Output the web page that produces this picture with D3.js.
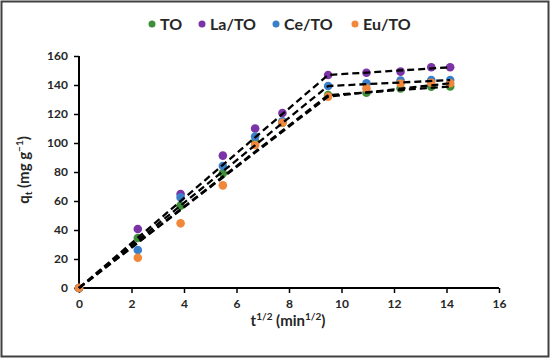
<!DOCTYPE html>
<html>
<head>
<meta charset="utf-8">
<script src="https://cdn.jsdelivr.net/npm/d3@7"></script>
<style>
	body { margin: 0; background: #fff; }
	svg text { font-family: Lato, "Open Sans", sans-serif; font-weight: bold; fill: #262626; }
</style>
</head>
<body>
<script>
// sqrt(t) values, min^1/2
var tHalf = [0, 2.24, 3.87, 5.48, 6.71, 7.75, 9.49, 10.95, 12.25, 13.42, 14.14];

var seriesNames = ["TO", "La/TO", "Ce/TO", "Eu/TO"];
var seriesColors = ["#3f8f3a", "#7b34a6", "#3a7fc9", "#f0873a"];

var qTO   = [0, 34.5, 56.8, 79.1, 101, 114, 133, 134.7, 137.7, 138.9, 139];
var qLaTO = [0, 40.7, 64.8, 91.3, 110, 120.7, 146.9, 148.5, 149.2, 152.2, 152.2];
var qCeTO = [0, 26.2, 62.5, 84.1, 104.4, 115, 139.3, 141.1, 143, 143.4, 143.4];
var qEuTO = [0, 20.9, 44.6, 70.8, 98.6, 114, 132, 137.7, 141, 141.6, 141.2];

// piecewise fit lines (two stages)
var fitX = [0, 9.49, 14.14];
var fitTO   = [0, 133, 139];
var fitLaTO = [0, 146.9, 152.2];
var fitCeTO = [0, 139.3, 143.4];
var fitEuTO = [0, 132, 141.2];

var xTicks = [0, 2, 4, 6, 8, 10, 12, 14, 16];
var yTicks = [0, 20, 40, 60, 80, 100, 120, 140, 160];

var width = 550, height = 360;
var margin = {left: 79, right: 51, top: 56, bottom: 72};

var svg = d3.select("body").append("svg")
	.attr("width", width)
	.attr("height", height);

svg.append("rect")
	.attr("x", 1.5).attr("y", 1.5)
	.attr("width", width - 3).attr("height", height - 5)
	.attr("fill", "#fff")
	.attr("stroke", "#404040")
	.attr("stroke-width", 2);

var x = d3.scaleLinear().domain([0, 16]).range([margin.left, width - margin.right]);
var y = d3.scaleLinear().domain([0, 160]).range([height - margin.bottom, margin.top]);

// axes
var xAxis = svg.append("g")
	.attr("transform", "translate(0," + y(0) + ")")
	.call(d3.axisBottom(x).tickValues(xTicks).tickSize(5).tickPadding(6));
var yAxis = svg.append("g")
	.attr("transform", "translate(" + x(0) + ",0)")
	.call(d3.axisLeft(y).tickValues(yTicks).tickSize(5).tickPadding(6));

[xAxis, yAxis].forEach(function(g) {
	g.select(".domain").attr("stroke", "#000").attr("stroke-width", 2);
	g.selectAll(".tick line").attr("stroke", "#000").attr("stroke-width", 1.5);
	g.selectAll(".tick text")
		.style("font-size", "12px")
		.style("font-family", "Lato, sans-serif")
		.style("font-weight", "bold")
		.attr("fill", "#262626");
});
yAxis.select(".domain").attr("d", "M0," + y(0) + "V" + y(160));
xAxis.select(".domain").attr("d", "M" + x(0) + ",0H" + x(16));

var allQ = [qTO, qLaTO, qCeTO, qEuTO];
var allFit = [fitTO, fitLaTO, fitCeTO, fitEuTO];

// markers
var drawOrder = [0, 1, 2, 3];
drawOrder.forEach(function(s) {
	svg.append("g").selectAll("circle")
		.data(allQ[s])
		.enter()
		.append("circle")
		.attr("cx", function(d, i) { return x(tHalf[i]); })
		.attr("cy", function(d) { return y(d); })
		.attr("r", 4.3)
		.attr("fill", seriesColors[s]);
});

// dashed fit lines on top
var line = d3.line()
	.x(function(d, i) { return x(fitX[i]); })
	.y(function(d) { return y(d); });

allFit.forEach(function(f) {
	svg.append("path")
		.attr("d", line(f))
		.attr("fill", "none")
		.attr("stroke", "#000")
		.attr("stroke-width", 2.3)
		.attr("stroke-dasharray", "7,4");
});

// legend
var legendX = [152, 202, 276, 355];
var legend = svg.append("g");
seriesNames.forEach(function(name, i) {
	legend.append("circle")
		.attr("cx", legendX[i]).attr("cy", 24)
		.attr("r", 3.5)
		.attr("fill", seriesColors[i]);
	legend.append("text")
		.attr("x", legendX[i] + 8).attr("y", 30)
		.style("font-size", "16px")
		.text(name);
});

// axis titles
var xTitle = svg.append("text")
	.attr("x", 288).attr("y", 326)
	.attr("text-anchor", "middle")
	.style("font-size", "15px");
xTitle.append("tspan").text("t");
xTitle.append("tspan").attr("dy", -6).style("font-size", "10px").text("1/2");
xTitle.append("tspan").attr("dy", 6).text(" (min");
xTitle.append("tspan").attr("dy", -6).style("font-size", "10px").text("1/2");
xTitle.append("tspan").attr("dy", 6).text(")");

var yTitle = svg.append("text")
	.attr("transform", "translate(29,170) rotate(-90)")
	.attr("text-anchor", "middle")
	.style("font-size", "15px");
yTitle.append("tspan").text("q");
yTitle.append("tspan").attr("dy", 3).style("font-size", "10px").text("t");
yTitle.append("tspan").attr("dy", -3).text(" (mg g");
yTitle.append("tspan").attr("dy", -6).style("font-size", "10px").text("\u22121");
yTitle.append("tspan").attr("dy", 6).text(")");
</script>
</body>
</html>
